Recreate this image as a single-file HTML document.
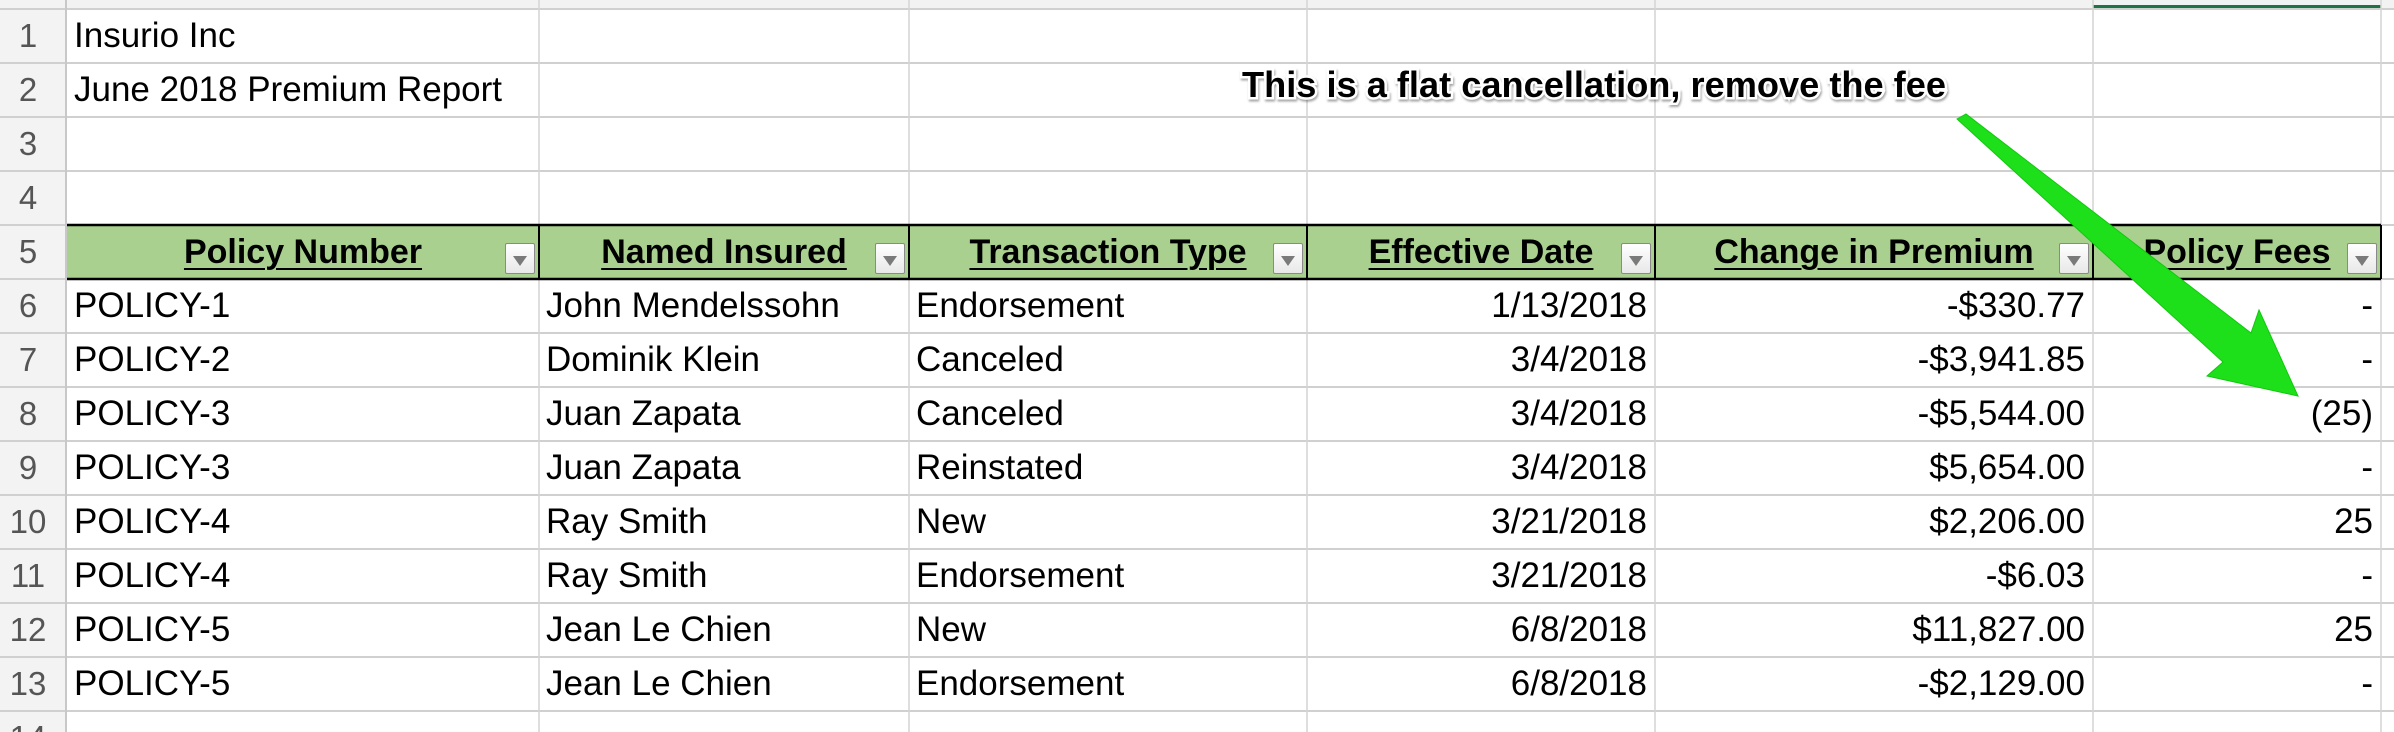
<!DOCTYPE html>
<html><head><meta charset="utf-8">
<style>
html,body{margin:0;padding:0;background:#fff;}
#sheet{position:relative;width:2394px;height:732px;overflow:hidden;font-family:"Liberation Sans",Arial,sans-serif;background:#fff;}
.ab{position:absolute;}
.cell{position:absolute;font-size:35px;color:#000;line-height:54px;white-space:nowrap;}
.rn{position:absolute;left:0;width:56px;text-align:center;font-size:33px;color:#555;line-height:54px;}
.hd{position:absolute;font-size:34px;font-weight:bold;text-decoration:underline;text-decoration-thickness:2px;text-underline-offset:5px;line-height:54px;text-align:center;}
.btn{position:absolute;width:30px;height:31px;background:linear-gradient(#fff,#e8e8e8);border:1px solid #8a8a8a;border-radius:2px;box-sizing:border-box;}
.btn:after{content:"";position:absolute;left:7px;top:12px;border-left:7px solid transparent;border-right:7px solid transparent;border-top:10px solid #7a7a7a;}
</style></head>
<body>
<div id="sheet">
<svg id="grid" class="ab" style="left:0;top:0" width="2394" height="732"></svg>
<div id="cells"></div>
<svg class="ab" style="left:0;top:0" width="2394" height="732">
  <polygon points="1957,119 1966,114 2251,333 2259,310 2298,396 2207,376 2223,362" fill="#1ee01a" stroke="#10c80e" stroke-width="1"/>
  <text x="1242" y="97" textLength="704" lengthAdjust="spacingAndGlyphs" font-family="Liberation Sans, Arial, sans-serif" font-size="36" font-weight="bold" fill="#000" stroke="#fff" stroke-width="5" paint-order="stroke" style="filter:drop-shadow(1px 2px 1px rgba(0,0,0,0.35))">This is a flat cancellation, remove the fee</text>
</svg>
</div>
<script>
const colEdges=[67,539,909,1307,1655,2093,2381,2394];
const rowEdges=[9,63,117,171,225,279,333,387,441,495,549,603,657,711,765];
const headers=["Policy Number","Named Insured","Transaction Type","Effective Date","Change in Premium","Policy Fees"];
const policies=["POLICY-1","POLICY-2","POLICY-3","POLICY-3","POLICY-4","POLICY-4","POLICY-5","POLICY-5"];
const insured=["John Mendelssohn","Dominik Klein","Juan Zapata","Juan Zapata","Ray Smith","Ray Smith","Jean Le Chien","Jean Le Chien"];
const types=["Endorsement","Canceled","Canceled","Reinstated","New","Endorsement","New","Endorsement"];
const dates=["1/13/2018","3/4/2018","3/4/2018","3/4/2018","3/21/2018","3/21/2018","6/8/2018","6/8/2018"];
const premiums=["-$330.77","-$3,941.85","-$5,544.00","$5,654.00","$2,206.00","-$6.03","$11,827.00","-$2,129.00"];
const fees=["-","-","(25)","-","25","-","25","-"];

const NS="http://www.w3.org/2000/svg";
const g=document.getElementById('grid');
function line(x1,y1,x2,y2,c,w,name){
  const l=document.createElementNS(NS,'line');
  l.setAttribute('x1',x1);l.setAttribute('y1',y1);l.setAttribute('x2',x2);l.setAttribute('y2',y2);
  l.setAttribute('stroke',c);l.setAttribute('stroke-width',w);
  
  
  g.appendChild(l);
}
function rect(x,y,w,h,f,name){
  const r=document.createElementNS(NS,'rect');
  r.setAttribute('x',x);r.setAttribute('y',y);r.setAttribute('width',w);r.setAttribute('height',h);r.setAttribute('fill',f);
  
  
  g.appendChild(r);
}
rect(0,0,2394,9,'#f2f2f2','column-header-strip');
rect(0,0,66,732,'#f3f3f3','row-header-strip');
rect(2093,5,288,4,'#217346','selected-column-indicator');
rect(67,225,2314,54,'#a9d08e','table-header-band');
rowEdges.forEach(y=>line(0,y,2394,y,'#d0d0d0',2,'row-line'));
line(66,0,66,732,'#c8c8c8',2,'row-header-border');
colEdges.slice(1,7).forEach(x=>line(x,0,x,732,'#d4d4d4',1.5,'column-line'));
line(67,225,2381,225,'#000',2.5,'header-top-border');
line(67,279,2381,279,'#000',2.5,'header-bottom-border');
colEdges.slice(1,7).forEach(x=>line(x,225,x,279,'#000',2,'header-column-border'));

const C=document.getElementById('cells');
function cell(x,y,w,text,align,cls,name,inter){
  const d=document.createElement('div');
  d.className=cls;
  d.style.left=x+'px';d.style.top=y+'px';d.style.width=w+'px';d.style.textAlign=align;
  d.textContent=text;
  
  
  C.appendChild(d);
  return d;
}
for(let r=0;r<14;r++){
  const d=document.createElement('div');
  d.className='rn';d.style.top=(rowEdges[r])+'px';d.textContent=String(r+1);
  
  
  C.appendChild(d);
}
cell(74,9,600,"Insurio Inc",'left','cell','company-name','true');
cell(74,63,600,"June 2018 Premium Report",'left','cell','report-title','true');
headers.forEach((h,i)=>{
  const x0=colEdges[i],x1=colEdges[i+1];
  cell(x0,225,x1-x0,h,'center','hd','header-cell','true');
  const b=document.createElement('div');
  b.className='btn';b.style.left=(x1-34)+'px';b.style.top='243px';
  
  
  C.appendChild(b);
});
const cols=[policies,insured,types,dates,premiums,fees];
const aligns=['left','left','left','right','right','right'];
const names=['policy-number-cell','named-insured-cell','transaction-type-cell','effective-date-cell','premium-change-cell','policy-fee-cell'];
for(let r=0;r<policies.length;r++){
  const y=rowEdges[5+r];
  cols.forEach((arr,i)=>{
    const x0=colEdges[i],x1=colEdges[i+1];
    const w=x1-x0-15;
    const xx=aligns[i]==='left'?x0+7:x0+7;
    cell(xx,y,w,arr[r],aligns[i],'cell',names[i],'true');
  });
}
</script>
</body></html>
